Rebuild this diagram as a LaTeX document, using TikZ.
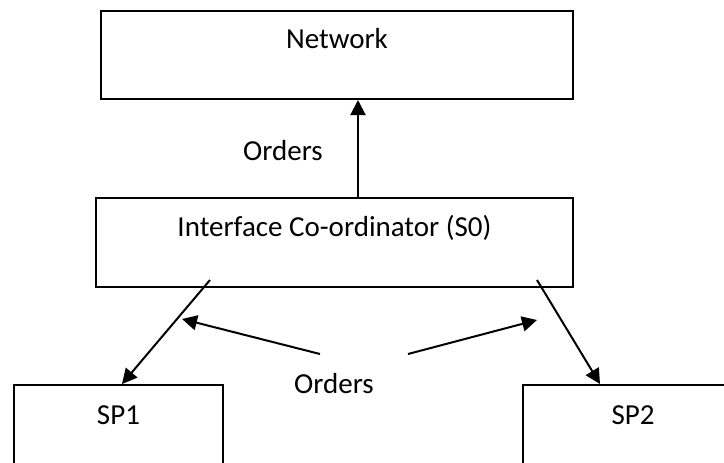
\documentclass[tikz,border=0pt]{standalone}
\usepackage{fontspec}
\setmainfont{Carlito}
\usetikzlibrary{arrows.meta,calc}
\tikzset{
  box/.style={draw, line width=2pt, rectangle, inner xsep=0pt, inner ysep=0pt, anchor=north west, font=\fontsize{29}{34}\selectfont},
  lbl/.style={anchor=base, inner sep=0pt, font=\fontsize{29}{34}\selectfont},
  arr/.style={line width=2pt, -{Triangle[length=15pt,width=15pt]}}
}
\begin{document}
\begin{tikzpicture}[x=1pt,y=-1pt]
\useasboundingbox (0,0) rectangle (724,463);
\clip (0,0) rectangle (724,463);
\node[box, minimum width=472pt, text height=37pt, text depth=51pt] (net) at (100,10) {Network};
\node[box, minimum width=477pt, text height=38pt, text depth=51pt] (ifc) at (95,197) {Interface Co-ordinator (S0)};
\node[box, minimum width=209pt, text height=39pt, text depth=60pt] (sp1) at (13,384) {SP1};
\node[box, minimum width=220pt, text height=39pt, text depth=60pt] (sp2) at (522,384) {SP2};
\node[lbl] (o1) at (283,160) {Orders};
\node[lbl] (o2) at (334,393) {Orders};
\draw[arr] (ifc.north west -| 358,0) -- (net.south west -| 358,0);
\coordinate (s1) at ($(ifc.south west)+(115,-8)$);
\coordinate (e1) at ($(sp1.north west)+(109,0)$);
\coordinate (s2) at ($(ifc.south west)+(442,-8)$);
\coordinate (e2) at ($(sp2.north west)+(78,0)$);
\draw[arr] (s1) -- (e1);
\draw[arr] (s2) -- (e2);
\coordinate (a1) at (320,354);
\coordinate (b1) at (182,319);
\coordinate (a2) at (408,354);
\coordinate (b2) at (537,320);
\draw[arr] (a1) -- (b1);
\draw[arr] (a2) -- (b2);
\end{tikzpicture}
\end{document}
